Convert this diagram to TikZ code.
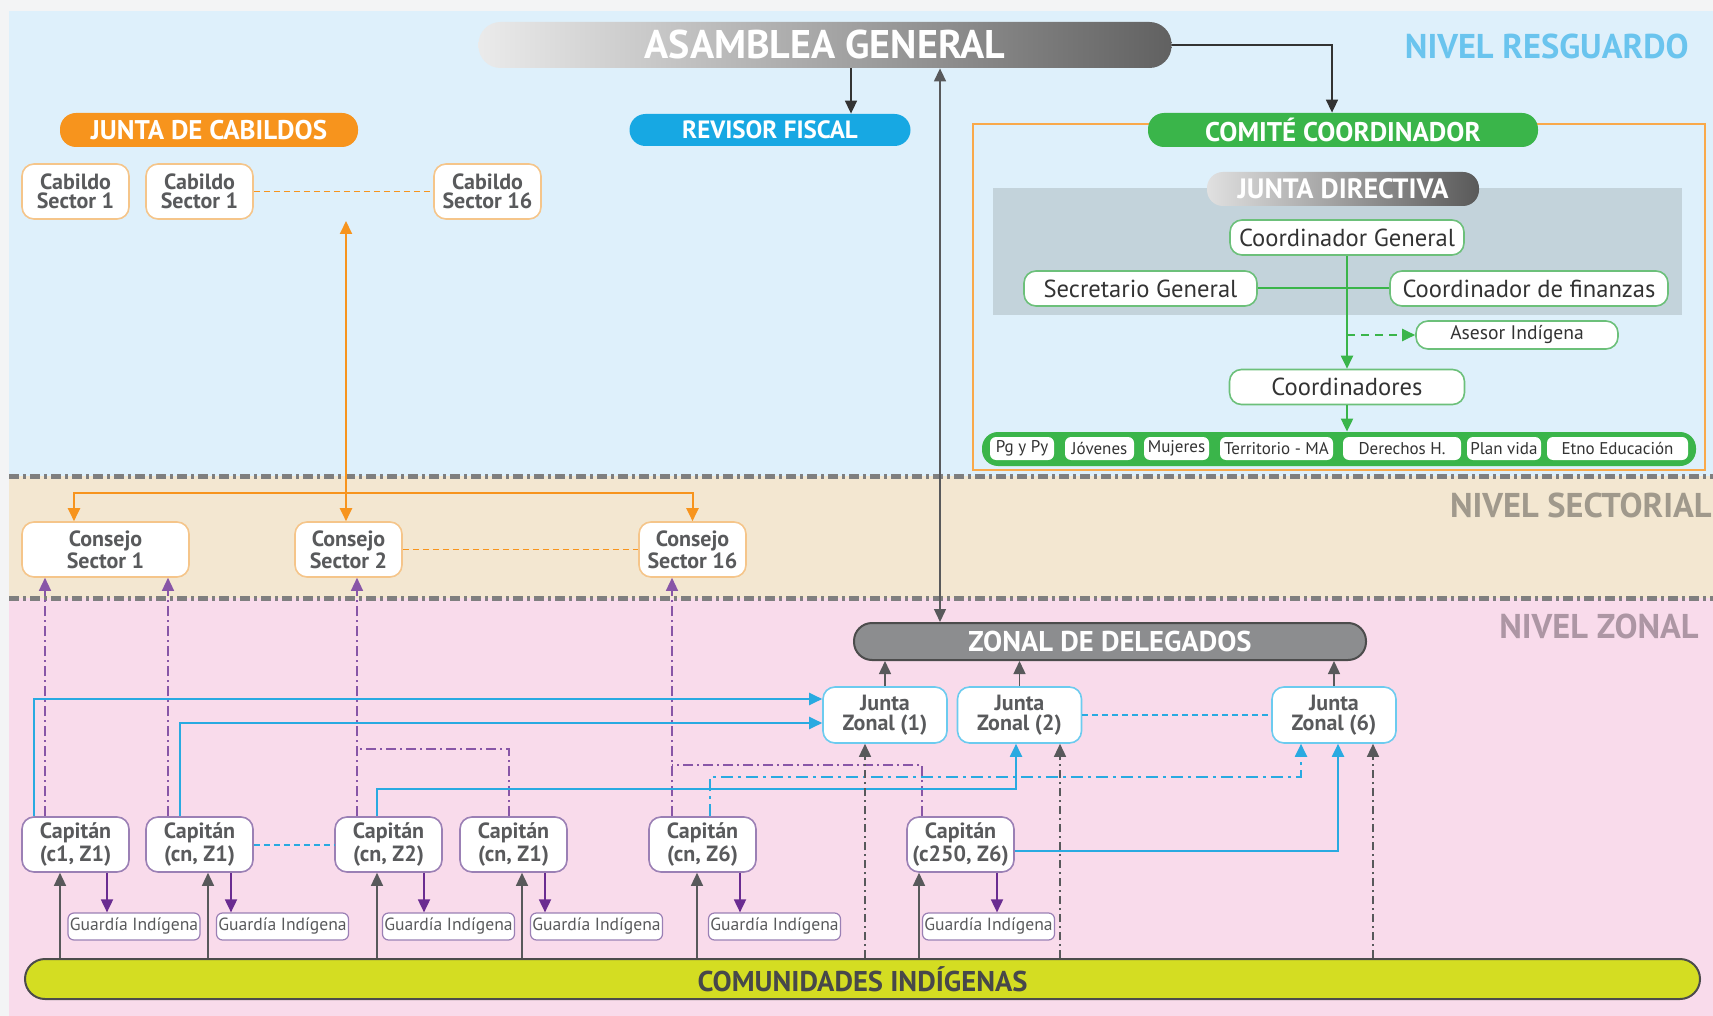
\documentclass[tikz,border=0pt]{standalone}
\usepackage{fontspec}
\setmainfont{PT Sans}
\usetikzlibrary{arrows.meta}

\definecolor{outerbg}{HTML}{F3F4F5}
\definecolor{bgblue}{HTML}{DEF0FB}
\definecolor{bgtan}{HTML}{F3E7D1}
\definecolor{bgpink}{HTML}{F9DBEB}
\definecolor{levelgrey}{HTML}{7F7F7F}
\definecolor{orangemain}{HTML}{F7941D}
\definecolor{orangeline}{HTML}{F5C58A}
\definecolor{revisorblue}{HTML}{17A8E3}
\definecolor{greenmain}{HTML}{3AB54A}
\definecolor{greenline}{HTML}{6CC07A}
\definecolor{textgrey}{HTML}{595A5C}
\definecolor{darktext}{HTML}{333333}
\definecolor{purplemain}{HTML}{6A2C91}
\definecolor{purpleline}{HTML}{9B80B5}
\definecolor{linkblue}{HTML}{29AAE1}
\definecolor{boxblue}{HTML}{6CCBEF}
\definecolor{panelgrey}{HTML}{C3D3DB}
\definecolor{zonalgrey}{HTML}{8C8D8F}
\definecolor{connectgrey}{HTML}{58595B}
\definecolor{limegreen}{HTML}{D4DD22}
\definecolor{resguardo}{HTML}{6AC4EE}
\definecolor{sectorial}{HTML}{A0998C}
\definecolor{zonaltext}{HTML}{AD96A4}

\begin{document}
\begin{tikzpicture}[x=0.5pt,y=-0.5pt, >={Triangle[length=6.5pt,width=6pt]},
 pill/.style={rounded corners=8pt, inner sep=0pt, text=white, font=\bfseries\fontsize{12.5}{13}\selectfont},
 sectorbox/.style={draw=orangeline, fill=white, line width=0.8pt, rounded corners=6pt, inner sep=0pt, align=center, text=textgrey, font=\bfseries\fontsize{11}{9.8}\selectfont, minimum width=53.5pt, minimum height=27.5pt},
 capbox/.style={sectorbox, draw=purpleline},
 zonalbox/.style={sectorbox, draw=boxblue, minimum width=62pt, minimum height=28pt},
 guardbox/.style={draw=purpleline, fill=white, line width=0.6pt, rounded corners=3pt, inner sep=0pt, text=textgrey, font=\fontsize{8.8}{9}\selectfont, minimum width=66pt, minimum height=13.5pt},
 rolebox/.style={draw=greenline, fill=white, line width=0.8pt, rounded corners=6pt, inner sep=0pt, text=darktext, font=\fontsize{12.3}{13}\selectfont, minimum height=17.5pt},
 itembox/.style={fill=white, rounded corners=3pt, inner sep=0pt, text=darktext, font=\fontsize{8.5}{9}\selectfont, minimum height=11.5pt},
 levelline/.style={draw=levelgrey, line width=2.5pt, dash pattern=on 5pt off 2pt on 1.5pt off 2pt},
 leveltext/.style={anchor=east, inner sep=0pt, font=\bfseries\fontsize{17.2}{18}\selectfont},
 darkarrow/.style={draw=black!80, line width=0.8pt},
 greyarrow/.style={draw=connectgrey, line width=0.7pt},
 orangearrow/.style={draw=orangemain, line width=1pt},
 orangedash/.style={draw=orangemain, line width=0.8pt, dash pattern=on 3pt off 2pt},
 greenarrow/.style={draw=greenmain, line width=1pt},
 purplearrow/.style={draw=purplemain, line width=0.9pt},
 purpledashdot/.style={draw=purplemain!80, line width=0.7pt, dash pattern=on 5pt off 2pt on 1pt off 2pt},
 bluearrow/.style={draw=linkblue, line width=1pt},
 bluedashdot/.style={bluearrow, dash pattern=on 6pt off 2.5pt on 1.5pt off 2.5pt},
 bluedash/.style={draw=linkblue, line width=1pt, dash pattern=on 3pt off 2pt},
 greydashdot/.style={draw=connectgrey, line width=0.7pt, dash pattern=on 4pt off 2pt on 1pt off 2pt}
]
 \useasboundingbox (0,0) rectangle (1713,1016);

 %Background
 \fill[outerbg] (0,0) rectangle (1713,1016);
 \fill[bgblue] (9,11) rectangle (1713,476);
 \fill[bgtan] (9,476) rectangle (1713,598);
 \fill[bgpink] (9,598) rectangle (1713,1016);
 \draw[levelline] (9,476) -- (1713,476);
 \draw[levelline] (9,598) -- (1713,598);

 %Levels
 \node[leveltext, text=resguardo] (resguardo) at (1689,46) {NIVEL RESGUARDO};
 \node[leveltext, text=sectorial] (sectorial) at (1712,505) {NIVEL SECTORIAL};
 \node[leveltext, text=zonaltext] (zonallevel) at (1699,626) {NIVEL ZONAL};

 %Frames
 \draw[orangemain!80, line width=0.8pt] (973,124) rectangle (1705,470);
 \fill[panelgrey] (993,188) rectangle (1682,315);

 %Coordinates
 \coordinate (cabildoLink) at (346,221);
 \coordinate (orangeJoin) at (346,493);
 \coordinate (sector2Join) at (357,749);
 \coordinate (sector16Join) at (672,765);
 \coordinate (zone2Bend) at (1016,789);
 \coordinate (zone6Bend) at (1301,777);

 %Names
 \node[pill, left color=black!8, right color=black!62, minimum width=346.5pt, minimum height=23pt, rounded corners=11pt, font=\bfseries\fontsize{20}{20}\selectfont] (asamblea) at (825,45) {ASAMBLEA GENERAL};
 \node[pill, fill=revisorblue, minimum width=140.5pt, minimum height=16pt] (revisor) at (770,130) {REVISOR FISCAL};
 \node[pill, fill=orangemain, minimum width=149pt, minimum height=17pt, font=\bfseries\fontsize{13.5}{14}\selectfont] (cabildos) at (209,130) {JUNTA DE CABILDOS};
 \node[pill, fill=greenmain, minimum width=195pt, minimum height=17pt, font=\bfseries\fontsize{13.5}{14}\selectfont] (comite) at (1343,130) {COMITÉ COORDINADOR};
 \node[pill, left color=black!12, right color=black!65, minimum width=136pt, minimum height=17pt, font=\bfseries\fontsize{14}{14}\selectfont] (directiva) at (1343,189) {JUNTA DIRECTIVA};

 \node[sectorbox] (cab1) at (75.5,191.5) {Cabildo\\Sector 1};
 \node[sectorbox] (cab2) at (199.5,191.5) {Cabildo\\Sector 1};
 \node[sectorbox] (cab16) at (487.5,191.5) {Cabildo\\Sector 16};

 \node[sectorbox, minimum width=83.5pt] (cons1) at (105.5,549.5) {Consejo\\Sector 1};
 \node[sectorbox] (cons2) at (348.5,549.5) {Consejo\\Sector 2};
 \node[sectorbox] (cons16) at (692.5,549.5) {Consejo\\Sector 16};

 \node[rolebox, minimum width=117pt] (coordgen) at (1347,237.5) {Coordinador General};
 \node[rolebox, minimum width=116.5pt] (secgen) at (1140.5,288.5) {Secretario General};
 \node[rolebox, minimum width=139pt] (coordfin) at (1529,288.5) {Coordinador de finanzas};
 \node[rolebox, minimum width=101pt, minimum height=14pt, font=\fontsize{9.8}{10}\selectfont] (asesor) at (1517,335) {Asesor Indígena};
 \node[rolebox, minimum width=117.5pt] (coordinadores) at (1347,387) {Coordinadores};
 \node[pill, fill=greenmain, minimum width=357pt, minimum height=17pt] (comisiones) at (1339,449) {};
 \foreach \name/\cx/\w/\txt in {pgpy/1022/32pt/Pg y Py, jovenes/1099.5/34.5pt/Jóvenes, mujeres/1176.5/32.5pt/Mujeres, territorio/1276.5/56.5pt/Territorio - MA, derechos/1402/59pt/Derechos H., planvida/1504/37pt/Plan vida, etno/1617.5/70.5pt/Etno Educación}
  \node[itembox, minimum width=\w] (\name) at (\cx,448.5) {\txt};

 \node[pill, fill=zonalgrey, draw=black!70, line width=1pt, minimum width=256pt, minimum height=18.5pt, rounded corners=9pt, font=\bfseries\fontsize{14.3}{14}\selectfont] (zonal) at (1110,641.5) {ZONAL DE DELEGADOS};
 \node[zonalbox] (jz1) at (885,715) {Junta\\Zonal (1)};
 \node[zonalbox] (jz2) at (1019.5,715) {Junta\\Zonal (2)};
 \node[zonalbox] (jz6) at (1334,715) {Junta\\Zonal (6)};

 \foreach \i/\cx/\txt in {1/75.5/{c1, Z1}, 2/199.5/{cn, Z1}, 3/388.5/{cn, Z2}, 4/513.5/{cn, Z1}, 5/702.5/{cn, Z6}, 6/960.5/{c250, Z6}}
  \node[capbox] (cap\i) at (\cx,844.5) {Capitán\\(\txt)};
 \foreach \i/\cx in {1/134,2/282.5,3/448.5,4/596.5,5/774.5,6/988.5}
  \node[guardbox] (guard\i) at (\cx,926.5) {Guardía Indígena};

 \node[pill, fill=limegreen, draw=black!70, line width=1pt, minimum width=837.5pt, minimum height=20pt, rounded corners=10pt, text=textgrey!80!black, font=\bfseries\fontsize{14.3}{14}\selectfont] (comunidades) at (862.5,979) {COMUNIDADES INDÍGENAS};

 %Arrows resguardo
 \draw[darkarrow, ->] (asamblea.south -| 851,0) -- (revisor.north -| 851,0);
 \draw[darkarrow, ->] (asamblea.east) -| (comite.north -| 1332,0);
 \draw[greyarrow, <->] (asamblea.south -| 940,0) -- (zonal.north -| 940,0);

 \draw[orangearrow, <->] (cabildoLink) -- (cons2.north -| cabildoLink);
 \draw[orangearrow, ->] (orangeJoin) -| (cons1.north -| 74,0);
 \draw[orangearrow, ->] (orangeJoin) -| (cons16.north);
 \draw[orangedash] (cab2.east) -- (cab16.west);
 \draw[orangedash] (cons2.east) -- (cons16.west);

 \draw[greenarrow, ->] (coordgen.south) -- (coordinadores.north);
 \draw[greenarrow] (secgen.east) -- (coordfin.west);
 \draw[greenarrow, ->, dash pattern=on 4pt off 3pt] (coordgen.south |- asesor.west) -- (asesor.west);
 \draw[greenarrow, ->] (coordinadores.south) -- (coordinadores.south |- comisiones.north);

 %Arrows zonal
 \foreach \j in {1,2,6}
  \draw[greyarrow, ->] (jz\j.north) -- (jz\j.north |- zonal.south);
 \draw[bluedash] (jz2.east) -- (jz6.west);

 \foreach \i/\x in {1/107,2/231,3/424,4/545,5/740,6/997}
  \draw[purplearrow, ->] (cap\i.south -| \x,0) -- (guard\i.north -| \x,0);
 \foreach \i/\x in {1/60,2/208,3/377,4/522,5/697,6/919}
  \draw[greyarrow, ->] (comunidades.north -| \x,0) -- (cap\i.south -| \x,0);

 \draw[purpledashdot, ->] (cap1.north -| 45,0) -- (cons1.south -| 45,0);
 \draw[purpledashdot, ->] (cap2.north -| 168,0) -- (cons1.south -| 168,0);
 \draw[purpledashdot, ->] (cap3.north -| 357,0) -- (cons2.south -| 357,0);
 \draw[purpledashdot] (cap4.north -| 509,0) |- (sector2Join);
 \draw[purpledashdot, ->] (cap5.north -| 672,0) -- (cons16.south -| 672,0);
 \draw[purpledashdot] (cap6.north -| 922,0) |- (sector16Join);

 \draw[bluearrow, ->] (cap1.north -| 34,0) |- ([yshift=8pt]jz1.west);
 \draw[bluearrow, ->] (cap2.north -| 180,0) |- ([yshift=-4pt]jz1.west);
 \draw[bluearrow, ->] (cap3.north -| 377,0) |- (zone2Bend) -- (jz2.south -| zone2Bend);
 \draw[bluearrow, ->] ([yshift=-3pt]cap6.east) -| ([xshift=2pt]jz6.south);
 \draw[bluedashdot, ->] (cap5.north -| 710,0) |- (zone6Bend) -- (jz6.south -| zone6Bend);
 \draw[bluedash] (cap2.east) -- (cap3.west);

 \foreach \j/\x in {1/865,2/1060,6/1373}
  \draw[greydashdot, ->] (comunidades.north -| \x,0) -- (jz\j.south -| \x,0);

\end{tikzpicture}
\end{document}
